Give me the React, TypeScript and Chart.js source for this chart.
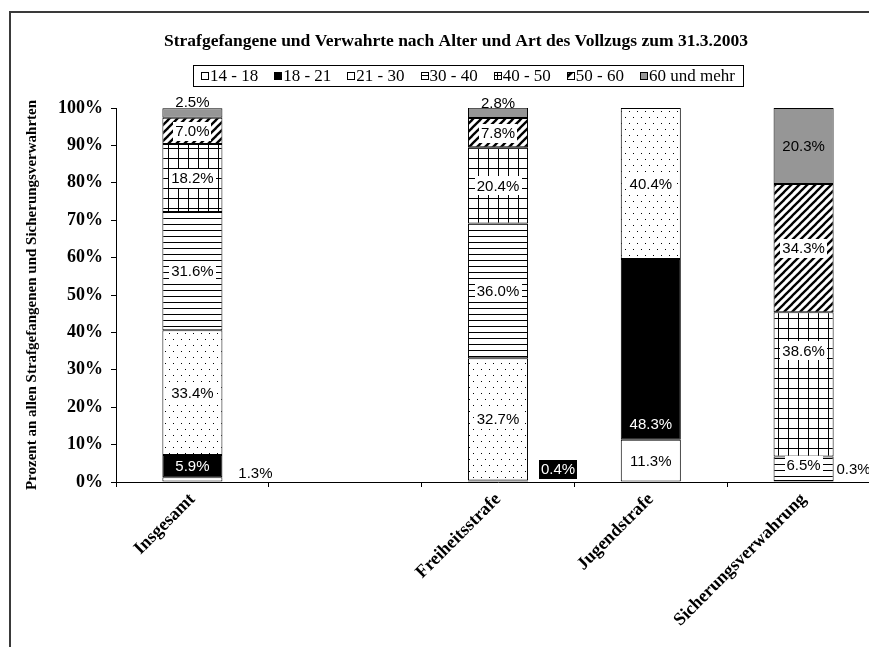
import React, { useEffect, useRef } from "react";
import { Chart, registerables } from "chart.js";

Chart.register(...registerables);

// ---------- data ----------
const TITLE = "Strafgefangene und Verwahrte nach Alter und Art des Vollzugs zum 31.3.2003";
const Y_TITLE = "Prozent an allen Strafgefangenen und Sicherungsverwahrten";
const categories = ["Insgesamt", "", "Freiheitsstrafe", "Jugendstrafe", "Sicherungsverwahrung"];
const seriesNames = ["14 - 18", "18 - 21", "21 - 30", "30 - 40", "40 - 50", "50 - 60", "60 und mehr"];
const s14_18 = [1.3, null, null, 11.3, null];
const s18_21 = [5.9, null, 0.4, 48.3, null];
const s21_30 = [33.4, null, 32.7, 40.4, 0.3];
const s30_40 = [31.6, null, 36.0, null, 6.5];
const s40_50 = [18.2, null, 20.4, null, 38.6];
const s50_60 = [7.0, null, 7.8, null, 34.3];
const s60plus = [2.5, null, 2.8, null, 20.3];
const seriesValues = [s14_18, s18_21, s21_30, s30_40, s40_50, s50_60, s60plus];
const yMin = 0;
const yMax = 100;
const yStep = 10;

// ---------- styling ----------
const W = 880;
const H = 660;
const SERIF = '"Liberation Serif", "Times New Roman", serif';
const SANS = '"Liberation Sans", Arial, sans-serif';
// label nudges (px) for labels that were moved in the original, key "series:category"
const labelNudges: Record<string, [number, number]> = {
  "0:0": [63, -6],
  "1:2": [60, -12],
  "2:4": [50, -12],
  "1:3": [0, 74],
  "4:4": [0, -34],
  "3:4": [0, -4],
  "6:0": [0, -11],
  "6:2": [0, -10],
};
const labelBg = [null, "#000000", "#ffffff", "#ffffff", "#ffffff", "#ffffff", null];
const labelFg = ["#000000", "#ffffff", "#000000", "#000000", "#000000", "#000000", "#000000"];

function tile(w: number, h: number, draw: (g: CanvasRenderingContext2D) => void) {
  const c = document.createElement("canvas");
  c.width = w;
  c.height = h;
  const g = c.getContext("2d")!;
  g.fillStyle = "#ffffff";
  g.fillRect(0, 0, w, h);
  g.fillStyle = "#000000";
  g.strokeStyle = "#000000";
  draw(g);
  return c;
}

function makeFills(ctx: CanvasRenderingContext2D): (string | CanvasPattern)[] {
  const dots = ctx.createPattern(
    tile(8, 12, (g) => {
      g.fillRect(1, 1, 1, 1);
      g.fillRect(5, 7, 1, 1);
    }),
    "repeat"
  )!;
  const hlines = ctx.createPattern(
    tile(4, 6, (g) => {
      g.fillRect(0, 0, 4, 1);
    }),
    "repeat"
  )!;
  const grid = ctx.createPattern(
    tile(10, 10, (g) => {
      g.fillRect(0, 0, 10, 1);
      g.fillRect(0, 0, 1, 10);
    }),
    "repeat"
  )!;
  const diag = ctx.createPattern(
    tile(8, 8, (g) => {
      g.lineWidth = 2.3;
      for (const k of [-8, 0, 8]) {
        g.beginPath();
        g.moveTo(k - 1, 9);
        g.lineTo(k + 9, -1);
        g.stroke();
      }
    }),
    "repeat"
  )!;
  return ["#ffffff", "#000000", dots, hlines, grid, diag, "#969696"];
}

function drawLegendIcon(ctx: CanvasRenderingContext2D, i: number, x: number, y: number, s: number) {
  ctx.save();
  ctx.lineWidth = 1;
  ctx.strokeStyle = "#000";
  ctx.fillStyle = i === 1 ? "#000" : i === 6 ? "#969696" : "#fff";
  ctx.fillRect(x, y, s, s);
  ctx.fillStyle = "#000";
  if (i === 3) ctx.fillRect(x, y + Math.floor(s / 2), s, 1);
  if (i === 4) {
    ctx.fillRect(x, y + Math.floor(s / 2), s, 1);
    ctx.fillRect(x + Math.floor(s / 2), y, 1, s);
  }
  if (i === 5) {
    ctx.beginPath();
    ctx.moveTo(x, y + s);
    ctx.lineTo(x, y + 2);
    ctx.lineTo(x + s - 2, y);
    ctx.lineTo(x + s, y);
    ctx.closePath();
    ctx.fill();
  }
  ctx.strokeRect(x + 0.5, y + 0.5, s, s);
  ctx.restore();
}

const decorPlugin = {
  id: "decor",
  beforeDraw(chart: any) {
    const ctx = chart.ctx as CanvasRenderingContext2D;
    ctx.save();
    ctx.fillStyle = "#ffffff";
    ctx.fillRect(0, 0, chart.width, chart.height);
    ctx.restore();
  },
  afterDraw(chart: any) {
    const ctx = chart.ctx as CanvasRenderingContext2D;
    ctx.save();
    // chart border (top & left visible)
    ctx.strokeStyle = "#3a3a3a";
    ctx.lineWidth = 2;
    ctx.beginPath();
    ctx.moveTo(2, chart.height);
    ctx.lineTo(2, 4);
    ctx.lineTo(chart.width, 4);
    ctx.stroke();

    // title
    ctx.fillStyle = "#000";
    ctx.font = `bold 17.5px ${SERIF}`;
    ctx.textAlign = "center";
    ctx.textBaseline = "middle";
    ctx.fillText(TITLE, 448, 33);

    // legend
    ctx.font = `17px ${SERIF}`;
    const sw = 7;
    const gapIcon = 2;
    const gapItem = 16;
    const widths = seriesNames.map((n) => ctx.measureText(n).width);
    const total =
      widths.reduce((a, b) => a + b, 0) + seriesNames.length * (sw + gapIcon) + (seriesNames.length - 1) * gapItem;
    const cx = 460;
    const cy = 67.5;
    const padX = 8;
    const boxL = Math.round(cx - total / 2 - padX) + 0.5;
    const boxR = Math.round(cx + total / 2 + padX) + 0.5;
    ctx.strokeStyle = "#000";
    ctx.lineWidth = 1;
    ctx.strokeRect(boxL, 57.5, boxR - boxL, 21);
    let x = cx - total / 2;
    ctx.textAlign = "left";
    ctx.textBaseline = "middle";
    seriesNames.forEach((n, i) => {
      drawLegendIcon(ctx, i, Math.round(x), Math.round(cy - sw / 2), sw);
      x += sw + gapIcon;
      ctx.fillStyle = "#000";
      ctx.fillText(n, x, cy + 1);
      x += widths[i] + gapItem;
    });

    // data labels
    ctx.font = `15px ${SANS}`;
    ctx.textAlign = "center";
    ctx.textBaseline = "middle";
    chart.data.datasets.forEach((ds: any, i: number) => {
      const meta = chart.getDatasetMeta(i);
      meta.data.forEach((bar: any, j: number) => {
        const v = ds.data[j];
        if (v === null || v === undefined) return;
        const p = bar.getProps(["x", "y", "base"], true);
        let lx = p.x;
        let ly = (p.y + p.base) / 2;
        const nd = labelNudges[`${i}:${j}`];
        if (nd) {
          lx += nd[0];
          ly += nd[1];
        }
        const txt = v.toFixed(1) + "%";
        const tw = ctx.measureText(txt).width;
        const bg = labelBg[i];
        if (bg) {
          ctx.fillStyle = bg;
          ctx.fillRect(Math.round(lx - tw / 2 - 2), Math.round(ly - 9), Math.round(tw + 4), 19);
        }
        ctx.fillStyle = labelFg[i];
        ctx.fillText(txt, lx, ly + 1);
      });
    });
    ctx.restore();
  },
};

export default function App() {
  const ref = useRef<HTMLCanvasElement>(null);
  useEffect(() => {
    document.documentElement.style.overflow = "hidden";
    document.body.style.overflow = "hidden";
    const canvas = ref.current!;
    const ctx = canvas.getContext("2d")!;
    const fills = makeFills(ctx);
    const chart = new Chart(ctx, {
      type: "bar",
      data: {
        labels: categories,
        datasets: seriesNames.map((name, i) => ({
          label: name,
          data: seriesValues[i],
          backgroundColor: fills[i] as any,
          borderColor: "#000000",
          borderWidth: 1,
          borderSkipped: false,
          barPercentage: 0.393,
          categoryPercentage: 1,
        })),
      },
      options: {
        responsive: false,
        animation: false,
        events: [],
        layout: { padding: { left: 8, top: 100, right: 8, bottom: 0 } },
        plugins: {
          legend: { display: false },
          title: { display: false },
          tooltip: { enabled: false },
        },
        scales: {
          x: {
            stacked: true,
            offset: true,
            grid: {
              offset: true,
              drawOnChartArea: false,
              drawTicks: true,
              tickLength: 5,
              color: "#000000",
            },
            border: { color: "#000000", width: 1 },
            ticks: {
              autoSkip: false,
              minRotation: 45,
              maxRotation: 45,
              padding: 2,
              color: "#000000",
              font: { family: SERIF, weight: "bold", size: 18 },
            },
            afterFit: (s: any) => {
              s.height = H - 474;
            },
          },
          y: {
            stacked: true,
            min: yMin,
            max: yMax,
            ticks: {
              stepSize: yStep,
              callback: (v: any) => v + "%",
              padding: 8,
              color: "#000000",
              font: { family: SERIF, weight: "bold", size: 18 },
            },
            grid: { drawOnChartArea: false, tickLength: 5, color: "#000000" },
            border: { color: "#000000", width: 1 },
            title: {
              display: true,
              text: Y_TITLE,
              color: "#000000",
              font: { family: SERIF, weight: "bold", size: 15 },
              padding: { top: 7, bottom: 0 },
            },
            afterFit: (s: any) => {
              s.width = 100;
            },
          },
        },
      },
      plugins: [decorPlugin],
    });
    return () => chart.destroy();
  }, []);
  return (
    <div style={{ width: 869, height: 639, overflow: "hidden" }}>
      <canvas ref={ref} width={W} height={H} style={{ display: "block" }} />
    </div>
  );
}
